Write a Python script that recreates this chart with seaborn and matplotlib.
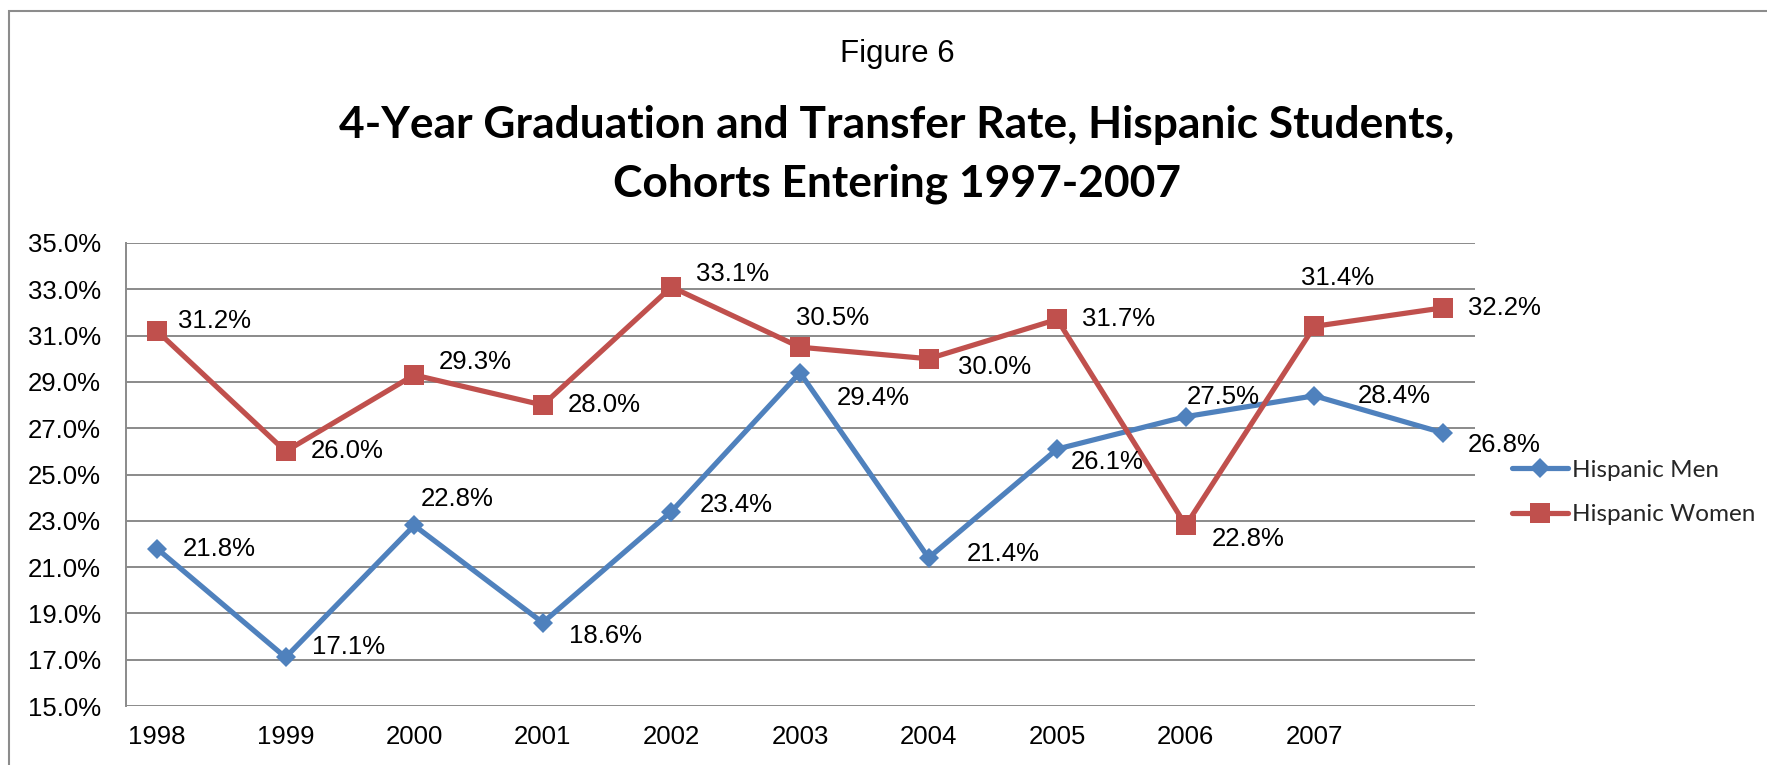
import matplotlib
matplotlib.use("Agg")
import matplotlib.pyplot as plt
import matplotlib.patches as mpatches
from matplotlib.lines import Line2D
import seaborn as sns
import pandas as pd

# ---- data ----
years = ["1998", "1999", "2000", "2001", "2002", "2003", "2004", "2005", "2006", "2007", ""]
men = [21.8, 17.1, 22.8, 18.6, 23.4, 29.4, 21.4, 26.1, 27.5, 28.4, 26.8]
women = [31.2, 26.0, 29.3, 28.0, 33.1, 30.5, 30.0, 31.7, 22.8, 31.4, 32.2]
series_names = ["Hispanic Men", "Hispanic Women"]
y_ticks = [15, 17, 19, 21, 23, 25, 27, 29, 31, 33, 35]

# label offsets (pixels: dx to label left edge, dy downward)
men_off = [(26, 0), (26, -10), (7, -26), (26, 13), (28, -7), (37, 25), (38, -4),
           (14, 13), (1, -20), (43, 0), (25, 12)]
women_off = [(21, -10), (25, 0), (25, -13), (25, 0), (25, -13), (-4, -29), (29, 8),
             (25, 0), (26, 14), (-13, -48), (25, 0)]

W, H, DPI = 1767, 765, 100
BLUE = "#4F81BD"
RED = "#C0504D"
GRID = "#8A8A8A"

sns.set_theme(style="white")
plt.rcParams["font.family"] = ["Liberation Sans", "DejaVu Sans"]

pos = list(range(len(men)))
df = pd.DataFrame({
    "pos": pos * 2,
    "rate": men + women,
    "series": [series_names[0]] * len(men) + [series_names[1]] * len(women),
})

fig = plt.figure(figsize=(W / DPI, H / DPI), dpi=DPI)
fig.patch.set_facecolor("white")
ax = fig.add_axes([126 / W, 1 - 706 / H, (1475 - 126) / W, (706 - 243) / H])

sns.lineplot(data=df[df.series == series_names[0]], x="pos", y="rate", ax=ax,
             color=BLUE, lw=3.75, marker="D", markersize=9.8, markeredgewidth=0,
             legend=False, zorder=3)
sns.lineplot(data=df[df.series == series_names[1]], x="pos", y="rate", ax=ax,
             color=RED, lw=3.75, marker="s", markersize=14, markeredgewidth=0,
             legend=False, zorder=4)

ax.set_xlim(-0.241, 10.249)
ax.set_ylim(15, 35)
ax.set_yticks(y_ticks)
ax.set_yticklabels([f"{v:.1f}%" for v in y_ticks])
ax.set_xticks(pos[:10])
ax.set_xticklabels(years[:10])
ax.set_xlabel("")
ax.set_ylabel("")
ax.tick_params(axis="y", length=0, pad=18, labelsize=18.5, colors="black")
ax.tick_params(axis="x", length=0, pad=14, labelsize=18.5, colors="black")
ax.grid(axis="y", color=GRID, lw=1.4)
ax.grid(axis="x", visible=False)
ax.set_axisbelow(True)
for s in ["top", "right", "bottom"]:
    ax.spines[s].set_visible(False)
ax.spines["left"].set_color(GRID)
ax.spines["left"].set_linewidth(1.4)
ax.set_facecolor("white")

for vals, offs in ((men, men_off), (women, women_off)):
    for i, (v, (dx, dy)) in enumerate(zip(vals, offs)):
        ax.annotate(f"{v:.1f}%", (i, v), xytext=(dx, -dy), textcoords="offset pixels",
                    ha="left", va="center", fontsize=18.5, color="black", zorder=5)

# legend
handles = [
    Line2D([], [], color=BLUE, lw=3.75, marker="D", markersize=9.8, markeredgewidth=0),
    Line2D([], [], color=RED, lw=3.75, marker="s", markersize=14, markeredgewidth=0),
]
fig.legend(handles, series_names, loc="center left",
           bbox_to_anchor=(1512 / W, 1 - 492.5 / H), bbox_transform=fig.transFigure,
           frameon=False, borderpad=0, borderaxespad=0, handlelength=2.3,
           handletextpad=0.15, labelspacing=0.95,
           prop={"family": ["Lato", "DejaVu Sans"], "size": 17.5})

# titles
cx = 897 / W
fig.text(cx, 1 - 62 / H, "Figure 6", ha="center", va="baseline", fontsize=22.5,
         color="black")
t1 = fig.text(cx, 1 - 138 / H, "4-Year Graduation and Transfer Rate, Hispanic Students,",
              ha="center", va="baseline", fontsize=30, fontweight="bold",
              family=["Lato", "DejaVu Sans"], color="black")
t2 = fig.text(cx, 1 - 197 / H, "Cohorts Entering 1997-2007", ha="center", va="baseline",
              fontsize=30, fontweight="bold", family=["Lato", "DejaVu Sans"], color="black")
fig.canvas.draw()
w1 = t1.get_window_extent().width
fs = 30 * 1113 / w1
t1.set_fontsize(fs)
t2.set_fontsize(fs)

# outer frame
fig.patches.append(mpatches.Rectangle((9 / W, -0.1), 2, 1 - 11 / H + 0.1,
                                      transform=fig.transFigure, fill=False,
                                      edgecolor="#8C8C8C", lw=1.5))

fig.savefig("out.png", dpi=DPI, facecolor="white")
